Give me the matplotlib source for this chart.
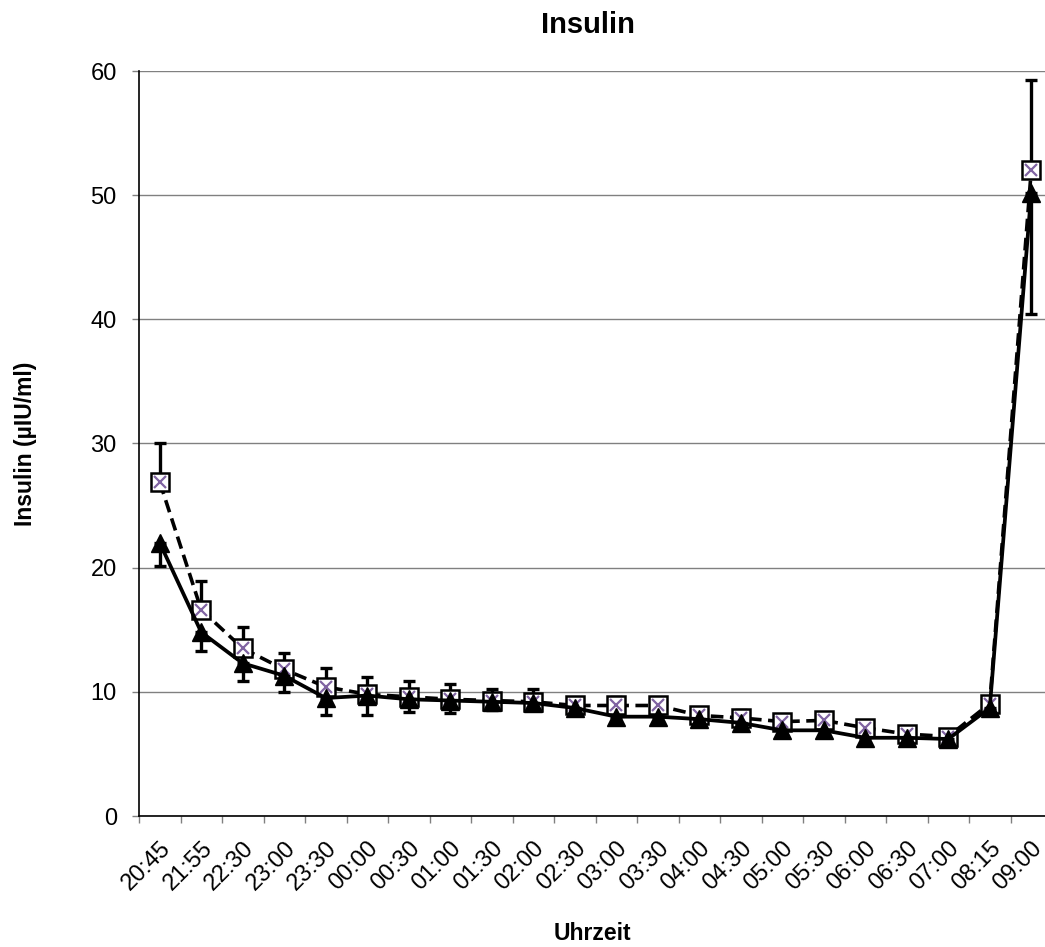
import matplotlib
matplotlib.use('Agg')
from matplotlib import pyplot as plt
import numpy as np

plt.rcParams['font.family'] = ['Liberation Sans', 'DejaVu Sans']

times = ['20:45', '21:55', '22:30', '23:00', '23:30', '00:00', '00:30', '01:00',
         '01:30', '02:00', '02:30', '03:00', '03:30', '04:00', '04:30', '05:00',
         '05:30', '06:00', '06:30', '07:00', '08:15', '09:00']

# dashed series (square markers), upper error bars
insulin_a = [26.9, 16.6, 13.5, 11.8, 10.4, 9.8, 9.6, 9.4, 9.3, 9.2, 8.9, 8.9,
             8.9, 8.1, 7.9, 7.6, 7.7, 7.1, 6.6, 6.4, 9.05, 52.0]
err_a = [3.1, 2.3, 1.7, 1.3, 1.5, 1.4, 1.3, 1.2, 0.9, 1.0, 0.6, 0.7,
         0.6, 0.5, 0.6, 0.5, 0.5, 0.5, 0.5, 0.5, 0.5, 7.3]

# solid series (triangle markers), lower error bars
insulin_b = [22.0, 14.8, 12.3, 11.3, 9.5, 9.7, 9.4, 9.3, 9.2, 9.1, 8.7, 8.0,
             8.0, 7.8, 7.5, 6.9, 6.9, 6.3, 6.3, 6.2, 8.7, 50.2]
err_b = [1.9, 1.5, 1.4, 1.3, 1.4, 1.6, 1.0, 1.0, 0.7, 0.6, 0.5, 0.4,
         0.4, 0.5, 0.4, 0.4, 0.4, 0.4, 0.4, 0.4, 0.4, 9.8]

x = np.arange(len(times))

fig = plt.figure(figsize=(10.45, 9.47), dpi=100)
ax = fig.add_axes([139 / 1045, 1 - 816 / 947, 913 / 1045, 745 / 947])

ax.grid(axis='y', color='#808080', linewidth=1.0, zorder=0)
ax.set_axisbelow(True)

# dashed series
ax.errorbar(x, insulin_a, yerr=[np.zeros(len(err_a)), err_a], fmt='none',
            ecolor='black', elinewidth=2.4, capsize=4.5, capthick=2.4, zorder=3)
ax.plot(x, insulin_a, color='black', linewidth=2.6, linestyle=(0, (3.5, 1.8)), zorder=3)
ax.plot(x, insulin_a, linestyle='none', marker='s', markersize=13,
        markerfacecolor='white', markeredgecolor='black', markeredgewidth=1.8, zorder=4)
ax.plot(x, insulin_a, linestyle='none', marker='x', markersize=9,
        markeredgecolor='#8064A2', markeredgewidth=1.6, zorder=5)

# solid series
ax.errorbar(x, insulin_b, yerr=[err_b, np.zeros(len(err_b))], fmt='none',
            ecolor='black', elinewidth=2.4, capsize=4.5, capthick=2.4, zorder=6)
ax.plot(x, insulin_b, color='black', linewidth=2.7, marker='^', markersize=12.5,
        markerfacecolor='black', markeredgecolor='black', zorder=7)

ax.set_xlim(-0.5, len(times) - 0.5)
ax.set_ylim(0, 60)
ax.set_yticks(np.arange(0, 61, 10))

ax.set_xticks(x)
ax.set_xticklabels(times, rotation=45, ha='right', rotation_mode='anchor', fontsize=17)
ax.set_xticks(np.arange(-0.5, len(times), 1), minor=True)
ax.tick_params(axis='x', which='major', length=0, pad=15)
ax.tick_params(axis='x', which='minor', length=5, color='#808080', width=1)
ax.tick_params(axis='y', length=5, color='#808080', width=1, labelsize=17, pad=11)

for s in ['top', 'right']:
    ax.spines[s].set_visible(False)
ax.spines['left'].set_linewidth(1.2)
ax.spines['bottom'].set_linewidth(1.2)

fig.text(588 / 1045, 1 - 25 / 947, 'Insulin', ha='center', va='center',
         fontsize=21, fontweight='bold')
fig.text(592 / 1045, 1 - 933 / 947, 'Uhrzeit', ha='center', va='center',
         fontsize=16.5, fontweight='bold')
fig.text(26 / 1045, 1 - 444 / 947, 'Insulin (µIU/ml)', ha='center', va='center',
         rotation=90, fontsize=16.5, fontweight='bold')

fig.savefig('out.png', dpi=100)
